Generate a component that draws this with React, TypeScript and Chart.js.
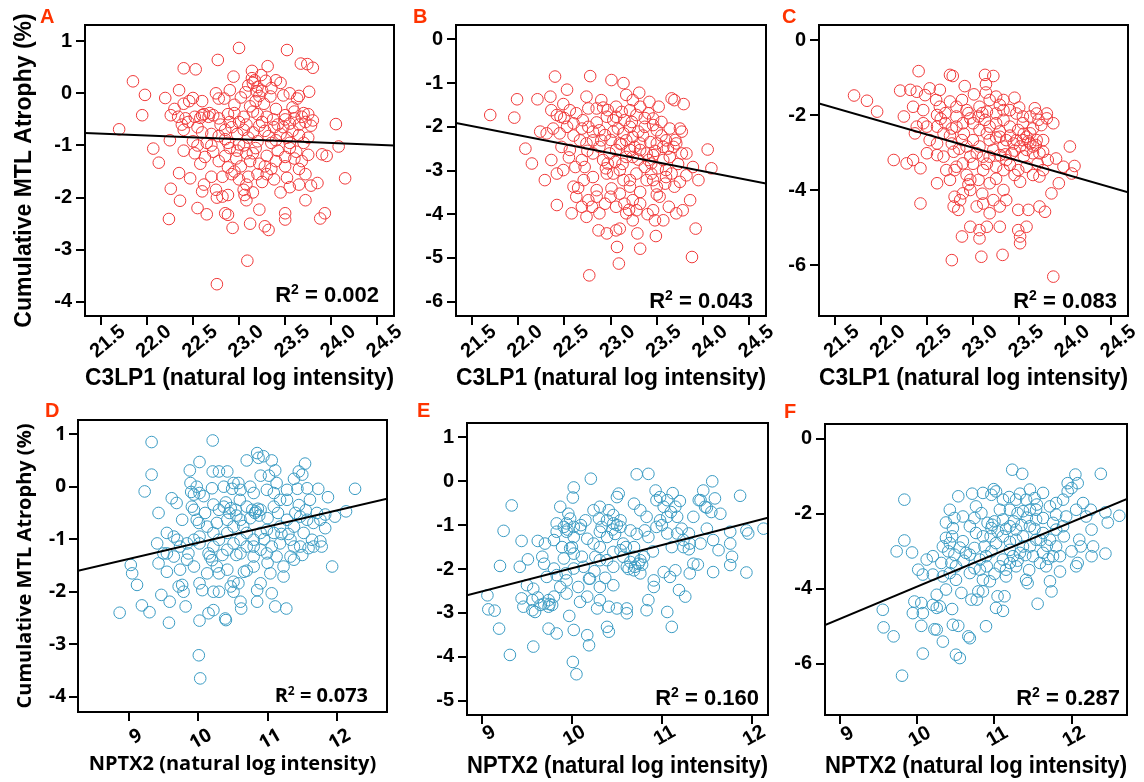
import React, { useEffect, useRef } from 'react';
import { Chart, registerables } from 'chart.js';

Chart.register(...registerables);

// ---------- tick values / labels ----------
const c3Ticks = [21.5, 22.0, 22.5, 23.0, 23.5, 24.0, 24.5];
const c3TickLabels = ['21.5', '22.0', '22.5', '23.0', '23.5', '24.0', '24.5'];
const nptxTicks = [9, 10, 11, 12];
const nptxTickLabels = ['9', '10', '11', '12'];
const yTicksA = [-4, -3, -2, -1, 0, 1];
const yTicksB = [-6, -5, -4, -3, -2, -1, 0];
const yTicksC = [-6, -4, -2, 0];
const yTicksD = [-4, -3, -2, -1, 0, 1];
const yTicksE = [-5, -4, -3, -2, -1, 0, 1];
const yTicksF = [-6, -4, -2, 0];

const letters = ['A', 'B', 'C', 'D', 'E', 'F'];
const r2Values = ['0.002', '0.043', '0.083', '0.073', '0.160', '0.287'];
const xTitleC3 = 'C3LP1 (natural log intensity)';
const xTitleNptx = 'NPTX2 (natural log intensity)';
const yTitle = 'Cumulative MTL Atrophy (%)';

// ---------- regression line end points ----------
const fitA = [[21.33, -0.76], [24.68, -1.0]];
const fitB = [[21.33, -1.91], [24.68, -3.3]];
const fitC = [[21.33, -1.69], [24.68, -4.06]];
const fitD = [[8.27, -1.6], [12.72, -0.23]];
const fitE = [[8.833, -2.6], [12.18, -0.83]];
const fitF = [[8.8, -4.97], [12.72, -1.6]];

// ---------- scatter points [x, y] ----------
const ptsA = [
  [23.0,0.87],[23.52,0.83],[22.77,0.64],[23.67,0.57],[23.74,0.56],[23.8,0.49],[22.4,0.48],[22.53,0.46],[23.31,0.52],[23.14,0.43],[23.24,0.35],
  [21.85,0.23],[22.94,0.32],[23.14,0.29],[23.17,0.25],[23.29,0.24],[23.4,0.25],[23.45,0.2],[23.2,0.12],[23.19,0.04],[23.76,0.03],[21.98,-0.03],[22.35,0.06],[22.75,0.0],[22.9,0.06],[23.07,0.02],[23.55,0.0],[23.65,-0.05],[23.35,0.1],[23.1,0.15],
  [22.2,-0.09],[22.5,-0.09],[22.46,-0.15],[22.4,-0.2],[22.78,-0.1],[22.84,-0.1],[23.02,-0.08],[23.22,-0.05],[23.34,-0.06],[23.48,-0.04],[23.63,-0.1],[23.27,-0.2],[23.4,-0.3],[23.58,-0.27],[23.12,-0.25],[22.95,-0.22],[21.95,-0.42],[22.26,-0.42],[22.34,-0.45],[22.42,-0.48],[22.52,-0.45],[22.6,-0.42],[22.67,-0.45],[22.72,-0.42],[22.78,-0.48],[22.88,-0.4],[22.95,-0.38],[23.05,-0.45],[23.15,-0.35],[23.2,-0.4],[23.3,-0.45],[23.37,-0.5],[23.5,-0.42],[23.6,-0.48],[23.68,-0.45],[23.75,-0.4],[23.72,-0.55],[23.8,-0.52],[23.55,-0.58],
  [21.7,-0.69],[22.38,-0.6],[22.4,-0.7],[22.55,-0.65],[22.6,-0.75],[22.7,-0.78],[22.78,-0.82],[22.85,-0.7],[22.92,-0.65],[22.98,-0.78],[23.05,-0.7],[23.1,-0.85],[23.15,-0.75],[23.22,-0.62],[23.28,-0.72],[23.32,-0.82],[23.38,-0.65],[23.45,-0.78],[23.52,-0.85],[23.58,-0.72],[23.65,-0.8],[23.75,-0.85],[23.7,-0.95],[24.05,-0.59],[22.25,-0.9],[22.5,-0.92],[22.65,-0.95],[22.88,-0.95],[23.0,-0.98],[23.2,-0.92],[23.4,-0.9],[23.55,-0.95],[22.85,-0.88],[23.48,-0.65],
  [22.07,-1.06],[22.13,-1.33],[22.4,-1.1],[22.52,-1.15],[22.58,-1.35],[22.63,-1.22],[22.72,-1.12],[22.78,-1.3],[22.85,-1.2],[22.9,-1.05],[22.97,-1.25],[23.02,-1.4],[23.08,-1.15],[23.12,-1.3],[23.18,-1.05],[23.22,-1.35],[23.3,-1.2],[23.35,-1.45],[23.42,-1.1],[23.5,-1.22],[23.55,-1.05],[23.62,-1.12],[23.68,-1.3],[23.75,-1.18],[23.9,-1.17],[23.95,-1.2],[24.08,-1.02],[22.98,-1.1],[22.88,-1.42],[23.28,-1.4],[23.65,-1.45],
  [22.35,-1.53],[22.47,-1.63],[22.6,-1.88],[22.62,-1.75],[22.75,-1.85],[22.82,-1.6],[22.88,-1.95],[22.92,-1.55],[23.0,-1.65],[23.05,-1.85],[23.1,-1.6],[23.15,-1.9],[23.2,-1.55],[23.25,-1.7],[23.3,-1.55],[23.38,-1.65],[23.45,-1.9],[23.52,-1.62],[23.55,-1.8],[23.65,-1.75],[23.72,-1.55],[23.78,-1.77],[23.85,-1.72],[24.15,-1.63],[22.82,-1.98],[23.08,-1.75],
  [22.26,-1.83],[22.36,-2.06],[22.55,-2.2],[22.65,-2.32],[22.76,-2.0],[22.85,-2.3],[22.88,-2.33],[22.93,-2.58],[23.08,-2.05],[23.12,-2.5],[23.22,-2.23],[23.28,-2.55],[23.32,-2.62],[23.5,-2.3],[23.5,-2.42],[23.72,-2.05],[23.88,-2.4],[23.93,-2.3],[23.06,-1.95],[22.24,-2.41],
  [23.09,-3.21],[22.76,-3.66],
  [22.62,-0.4],[22.68,-0.38],[22.58,-0.47],[23.15,0.2],[23.18,-0.15],[23.25,0.05],[23.6,-0.35],[23.65,-0.6],[23.7,-0.38],[23.78,-0.62],[22.8,-0.6],[22.9,-0.55],[23.0,-0.55],[23.08,-0.6],[23.25,-0.55],[23.42,-0.6],[23.5,-0.5],[22.7,-1.0],[22.95,-1.5],[23.15,-1.15],[23.4,-1.3],[23.6,-1.25],[22.45,-0.55],[22.3,-0.3],[22.6,-0.15],[23.5,-1.4],[22.7,-1.6],[23.35,-0.95],[23.05,-1.0],[22.55,-1.0],
];

const ptsB = [
  [22.4,-0.85],[22.78,-0.84],[23.01,-0.93],[23.14,-1.0],[22.53,-1.15],[23.31,-1.22],[21.99,-1.37],[22.21,-1.37],[22.35,-1.31],[22.49,-1.48],[22.74,-1.31],[22.9,-1.39],[23.17,-1.27],[23.24,-1.39],[23.42,-1.43],[23.52,-1.54],[23.66,-1.35],[23.69,-1.39],[23.79,-1.48],[21.7,-1.73],[21.96,-1.79],
  [22.36,-1.62],[22.42,-1.73],[22.46,-1.77],[22.56,-1.62],[22.63,-1.69],[22.76,-1.58],[22.85,-1.58],[22.92,-1.56],[22.97,-1.62],[23.06,-1.54],[23.12,-1.66],[23.21,-1.62],[23.28,-1.73],[23.32,-1.54],[23.41,-1.69],[23.46,-1.81],
  [22.24,-2.11],[22.31,-2.15],[22.38,-2.04],[22.45,-2.15],[22.53,-2.0],[22.6,-1.92],[22.69,-2.04],[22.76,-2.0],[22.81,-2.11],[22.88,-2.08],[22.94,-2.19],[23.03,-2.11],[23.08,-2.04],[23.14,-2.15],[23.21,-2.0],[23.24,-2.23],[23.3,-2.11],[23.37,-2.0],[23.46,-1.96],[23.5,-2.08],[23.55,-1.89],[23.64,-2.04],[23.75,-2.04],[23.77,-2.11],
  [22.08,-2.5],[22.15,-2.84],[22.29,-3.22],[22.36,-2.76],[22.42,-3.07],[22.47,-2.46],[22.49,-2.99],[22.56,-2.53],[22.62,-2.92],[22.69,-2.76],[22.74,-2.38],[22.81,-2.61],[22.88,-2.46],[22.92,-2.76],[22.97,-2.84],[23.05,-2.8],[23.1,-2.38],[23.17,-2.31],[23.21,-2.53],[23.24,-2.69],[23.32,-2.38],[23.39,-2.61],[23.44,-2.84],[23.5,-2.38],[23.51,-2.95],[23.57,-2.46],[23.6,-2.31],[23.64,-2.69],[23.68,-2.46],[23.71,-2.38],[23.77,-2.61],[23.82,-2.61],[23.89,-2.92],[24.05,-2.52],[24.09,-2.95],[23.95,-3.22],
  [22.6,-3.37],[22.63,-3.6],[22.71,-3.22],[22.76,-3.68],[22.8,-3.83],[22.85,-3.45],[22.88,-3.98],[22.94,-3.76],[23.01,-3.41],[23.06,-3.83],[23.1,-3.53],[23.15,-3.76],[23.21,-3.22],[23.24,-3.68],[23.28,-3.91],[23.32,-3.49],[23.39,-3.22],[23.44,-3.07],[23.5,-3.37],[23.53,-3.6],[23.59,-3.3],[23.66,-3.07],[23.69,-3.37],[23.75,-3.26],[23.82,-3.11],[23.86,-3.68],[23.78,-3.91],[23.71,-3.98],
  [22.42,-3.79],[22.58,-3.98],[22.87,-4.37],[22.96,-4.44],[23.06,-4.37],[23.1,-4.33],[23.17,-3.98],[23.29,-4.44],[23.48,-4.14],[23.49,-4.5],[23.57,-4.14],[23.92,-4.33],[23.07,-4.75],[23.32,-4.79],[23.09,-5.13],[23.88,-4.98],[22.77,-5.4],
  [23.03,-1.85],[22.96,-1.77],[23.06,-1.77],[23.15,-1.85],[23.23,-1.89],[23.26,-2.46],[23.32,-2.53],[23.41,-2.76],[23.46,-2.65],[23.57,-2.76],[23.6,-2.99],[22.67,-2.31],[22.81,-2.31],[22.9,-2.31],[22.72,-2.92],[22.81,-3.15],[22.96,-3.07],[23.03,-3.07],[23.1,-2.99],[23.14,-3.22],[23.21,-3.37],[23.28,-3.07],[23.37,-2.92],[23.46,-3.22],[22.99,-2.61],[23.06,-2.53],[23.17,-2.69],[22.74,-4.06],[22.69,-3.83],[23.24,-4.14],[23.46,-3.91],[23.63,-3.83],[23.32,-3.76],
  [22.7,-1.85],[22.85,-1.9],[23.0,-2.3],[23.12,-2.4],[23.35,-2.2],[23.43,-2.35],[23.55,-2.2],[23.62,-2.5],[23.7,-2.3],[23.48,-2.55],[22.6,-2.2],[22.55,-2.7],[22.75,-2.55],[22.95,-2.95],[23.13,-2.85],[23.3,-2.75],[23.6,-3.15],[23.73,-2.85],[22.5,-1.8],[23.37,-1.8],[23.5,-3.55],[23.0,-3.6],[22.85,-3.6],[23.2,-3.9],[22.65,-3.4],[23.4,-4.0],
];

const ptsC = [
  [22.41,-0.83],[22.75,-0.93],[22.78,-0.96],[23.13,-0.93],[23.22,-0.96],[21.71,-1.48],[21.85,-1.62],[21.96,-1.91],[22.21,-1.35],[22.32,-1.33],[22.39,-1.38],[22.48,-1.47],[22.53,-1.29],[22.64,-1.33],[22.91,-1.23],[23.01,-1.45],[23.14,-1.18],[23.14,-1.4],[23.25,-1.51],[23.33,-1.6],[23.45,-1.54],[22.35,-1.78],[22.25,-2.04],[22.46,-1.87],[22.61,-2.0],[22.64,-1.78],[22.75,-1.64],[22.82,-1.78],[22.88,-1.6],[22.93,-1.87],[23.07,-1.78],[23.18,-1.6],[23.29,-1.73],[23.4,-1.87],[23.47,-1.96],[23.54,-2.04],[23.67,-1.82],[23.69,-1.96],[23.8,-1.96],
  [22.39,-2.31],[22.37,-2.49],[22.46,-2.22],[22.5,-2.31],[22.61,-2.31],[22.7,-2.22],[22.77,-2.36],[22.82,-2.31],[22.89,-2.22],[22.97,-2.09],[23.06,-2.04],[23.13,-2.13],[23.18,-2.31],[23.25,-2.22],[23.33,-2.13],[23.4,-2.31],[23.49,-2.4],[23.54,-2.22],[23.62,-2.49],[23.65,-2.36],[23.74,-2.27],[23.76,-2.67],
  [22.14,-3.2],[22.28,-3.29],[22.35,-3.2],[22.43,-3.42],[22.61,-3.07],[22.68,-3.11],[22.77,-2.76],[22.79,-2.98],[22.88,-2.67],[22.93,-2.84],[22.97,-3.11],[23.0,-2.67],[23.07,-2.84],[23.11,-3.11],[23.18,-2.67],[23.22,-2.93],[23.29,-2.58],[23.33,-2.84],[23.36,-3.2],[23.42,-3.02],[23.47,-2.67],[23.51,-2.84],[23.54,-2.67],[23.58,-2.58],[23.62,-2.76],[23.65,-2.84],[23.69,-2.67],[23.72,-3.02],[23.76,-2.98],[23.81,-3.2],[23.9,-3.16],[23.98,-3.38],[24.05,-2.84],[24.1,-3.36],[24.07,-3.56],
  [22.61,-3.82],[22.75,-3.73],[22.8,-3.47],[22.93,-3.6],[22.97,-3.73],[23.06,-3.73],[23.11,-3.47],[23.18,-3.82],[23.25,-3.38],[23.33,-3.47],[23.4,-3.33],[23.49,-3.47],[23.51,-3.78],[23.58,-3.38],[23.65,-3.6],[23.72,-3.64],[23.76,-3.47],[23.85,-4.09],[23.93,-3.82],[23.78,-4.58],[23.72,-4.44],[23.6,-4.53],[23.49,-4.53],[23.33,-4.0],[23.36,-4.27],[23.29,-4.44],[23.22,-4.27],[23.11,-4.36],[23.18,-4.62],[23.04,-4.44],[22.97,-4.0],[22.89,-4.09],[22.86,-4.27],[22.8,-4.18],[22.79,-4.44],[22.84,-4.53],[22.43,-4.36],
  [22.97,-4.98],[23.07,-5.07],[23.15,-4.98],[23.29,-4.98],[23.07,-5.29],[22.88,-5.24],[23.49,-5.07],[23.51,-5.24],[23.51,-5.42],[23.58,-4.98],[22.77,-5.87],[23.09,-5.78],[23.32,-5.73],[23.87,-6.31],
  [23.33,-1.87],[23.25,-1.96],[23.15,-1.91],[22.82,-2.04],[23.0,-2.22],[23.07,-2.4],[23.15,-2.49],[23.29,-2.44],[23.36,-2.67],[23.44,-2.76],[23.58,-2.93],[23.65,-3.02],[23.04,-3.02],[23.18,-3.11],[23.29,-3.07],[22.89,-3.29],[22.71,-3.47],[22.82,-3.38],[22.5,-3.02],[22.61,-2.76],[22.53,-2.67],[22.68,-2.49],[23.62,-2.04],[23.71,-2.13],[23.8,-2.09],[23.87,-2.22],
  [22.6,-1.6],[22.7,-1.95],[22.95,-1.95],[23.1,-1.95],[23.25,-2.6],[23.4,-2.55],[23.45,-2.95],[23.55,-3.1],[23.6,-2.7],[23.68,-2.8],[23.7,-3.3],[22.75,-2.55],[22.9,-2.5],[23.0,-3.3],[23.15,-3.3],[23.35,-3.05],[23.45,-3.6],[22.95,-3.85],[23.25,-3.7],[22.65,-2.1],[23.5,-1.8],[23.55,-2.5],[22.85,-2.9],[23.1,-4.1],
];

const ptsD = [
  [9.33,0.85],[10.21,0.88],[9.33,0.23],[9.23,-0.09],[9.43,-0.5],[10.02,0.47],[9.88,0.31],[9.89,0.07],[9.98,0.0],[10.02,-0.12],[9.94,-0.15],[10.08,-0.18],[10.21,0.29],[10.3,0.29],[10.42,0.29],[10.51,0.07],[10.58,0.07],[10.49,-0.04],[10.7,0.5],[10.85,0.64],[10.87,0.55],[10.94,0.58],[11.06,0.5],[11.11,0.31],[11.02,0.21],[10.9,0.21],[11.13,0.07],[11.54,0.44],[11.45,0.29],[11.5,0.23],[11.38,0.15],[11.43,-0.04],[11.57,-0.03],[11.73,-0.04],[11.87,-0.2],[12.26,-0.04],
  [12.13,-0.47],[11.97,-0.57],[11.83,-0.53],[11.71,-0.5],[11.61,-0.25],[11.28,-0.25],[11.18,-0.25],[11.09,-0.38],[10.9,-0.44],[10.83,-0.47],[10.78,-0.44],[10.7,-0.38],[10.54,-0.44],[10.47,-0.41],[10.37,-0.38],[10.3,-0.44],[10.22,-0.34],[9.62,-0.22],[9.69,-0.31],[9.77,-0.63],[9.91,-0.38],[9.94,-0.44],[9.98,-0.63],[10.01,-0.69],[10.13,-0.76],[10.27,-0.69],[10.42,-0.63],[10.51,-0.76],[10.61,-0.63],
  [10.7,-0.88],[10.8,-1.01],[10.9,-0.88],[10.99,-0.82],[11.09,-0.88],[11.18,-0.76],[11.28,-0.63],[11.38,-0.76],[11.47,-0.57],[11.57,-0.63],[11.66,-0.69],[11.76,-0.63],[11.83,-0.79],[11.52,-0.88],[11.64,-1.01],[11.76,-1.04],[11.78,-1.14],[11.93,-1.52],[11.59,-1.17],[11.47,-1.14],[11.33,-1.33],[11.38,-1.39],[11.23,-1.52],[11.23,-1.71],[11.13,-1.33],[11.06,-1.14],[10.99,-1.27],[10.9,-1.2],[10.8,-1.33],[10.7,-1.14],[10.61,-1.01],[10.51,-1.08],[10.42,-1.2],[10.3,-1.01],[10.22,-1.14],[10.15,-1.27],[10.02,-0.95],[9.94,-1.01],[9.84,-1.08],[9.74,-1.14],[9.65,-0.95],[9.55,-0.88],[9.41,-1.08],[9.5,-1.27],
  [9.43,-1.46],[9.55,-1.62],[9.65,-1.33],[9.74,-1.58],[9.84,-1.39],[9.94,-1.52],[10.02,-1.84],[10.17,-1.33],[10.27,-1.52],[10.3,-1.65],[10.42,-1.58],[10.47,-1.9],[10.51,-1.81],[10.58,-1.84],[10.66,-1.62],[10.8,-1.52],[10.9,-1.84],[10.85,-1.97],[11.04,-1.65],[11.06,-2.03],[10.85,-2.19],[11.11,-2.28],[11.27,-2.32],[10.61,-2.19],[10.62,-2.32],[10.22,-2.35],[10.15,-2.41],[10.39,-2.51],[10.4,-2.54],[10.02,-2.55],[9.82,-2.28],[9.58,-2.59],[9.59,-2.19],[9.47,-2.06],[9.3,-2.39],[9.19,-2.26],[8.87,-2.4],[9.12,-1.87],[9.05,-1.65],[9.03,-1.49],[9.77,-1.87],[9.72,-1.9],[9.79,-2.0],[10.06,-1.97],[10.22,-2.0],[10.3,-2.0],[10.51,-2.0],[10.01,-3.21],[10.03,-3.65],
  [10.75,0.0],[10.8,-0.12],[10.99,-0.06],[11.09,-0.12],[11.28,-0.06],[10.37,0.0],[10.61,-0.06],[10.2,-0.03],[10.02,-1.08],[10.13,-1.65],[10.22,-0.88],[10.42,-0.88],[10.61,-1.27],[10.8,-1.14],[11.18,-1.08],[11.33,-1.01],[11.38,-1.14],[11.66,-1.14],[9.86,-1.27],[9.7,-1.01],[9.55,-1.27],
  [10.4,-0.3],[10.45,-0.5],[10.55,-0.55],[10.82,-0.5],[10.86,-0.42],[10.88,-0.55],[10.75,-0.6],[11.0,-0.6],[11.15,-0.5],[11.2,-0.9],[11.3,-0.9],[10.65,-0.75],[10.95,-1.0],[11.0,-1.45],[10.7,-1.6],[10.55,-1.3],[10.35,-1.3],[11.45,-0.35],[11.55,-0.45],[11.4,-0.5],[10.2,-1.4],[10.1,-0.5],[10.6,-0.25],[9.9,-0.1],[11.5,-1.3],
];

const ptsE = [
  [10.72,0.16],[10.85,0.17],[10.21,0.06],[10.02,-0.14],[10.01,-0.37],[9.33,-0.55],[9.24,-1.13],[9.2,-1.93],[9.44,-1.36],[9.42,-1.95],[9.51,-1.78],[9.62,-1.36],[9.7,-1.42],[9.8,-1.34],[9.87,-0.58],[9.96,-0.74],[9.98,-0.85],[9.91,-1.04],[9.94,-1.15],[9.83,-1.15],[10.02,-1.04],[10.09,-1.08],[9.89,-1.5],[9.98,-1.53],[10.15,-0.89],[10.24,-0.66],[10.31,-0.58],[10.41,-0.66],[10.46,-0.77],[10.5,-0.36],[10.52,-0.28],[10.46,-0.96],[10.54,-1.04],[10.33,-1.04],[10.39,-1.27],[10.24,-1.42],[10.17,-1.31],
  [10.02,-1.65],[9.91,-1.76],[9.69,-1.88],[9.67,-1.72],[9.8,-1.99],[9.83,-2.14],[9.93,-2.1],[10.02,-1.99],[10.11,-1.72],[10.2,-2.22],[10.26,-1.72],[10.31,-1.8],[10.39,-1.8],[10.46,-1.95],[10.57,-1.72],[10.65,-1.84],[10.69,-1.72],[10.74,-1.88],[10.8,-1.72],[10.69,-2.03],[10.76,-2.1],[10.61,-1.95],[10.65,-1.12],[10.69,-0.51],[10.76,-0.66],[10.83,-0.81],[10.81,-1.12],[10.85,-1.27],[10.93,-0.21],[10.94,-0.43],[10.98,-0.36],[11.02,-0.58],[11.06,-0.43],[11.12,-0.27],[11.15,-0.58],[10.98,-0.89],[11.06,-1.19],[11.11,-1.5],[11.17,-1.19],[11.22,-1.08],[11.24,-1.34],[11.31,-1.42],[11.3,-1.19],[11.35,-0.81],[11.41,-0.43],[11.46,-0.21],[11.48,-0.58],[11.56,0.0],[11.59,-0.39],[11.65,-0.74],[11.57,-1.34],[11.63,-1.57],[11.57,-2.07],
  [11.76,-1.15],[11.76,-1.42],[11.78,-1.72],[11.76,-1.91],[11.87,-0.33],[11.94,-1.12],[11.96,-1.19],[11.94,-2.08],[12.13,-1.08],[11.35,-1.88],[11.31,-2.1],[11.15,-2.03],[11.09,-2.18],[11.02,-2.07],[11.19,-2.48],[11.26,-2.63],[10.91,-2.26],[10.91,-2.41],[10.85,-2.71],[10.83,-2.94],[11.06,-2.98],[11.11,-3.32],[10.61,-2.9],[10.61,-3.01],[10.5,-2.9],[10.41,-2.86],[10.46,-2.37],[10.31,-2.41],[10.31,-2.71],[10.28,-2.9],[10.17,-2.63],[10.09,-2.75],[10.07,-2.41],[10.19,-2.22],[9.94,-2.56],[9.87,-2.41],[9.8,-2.63],[9.74,-2.71],[9.69,-2.79],[9.65,-2.82],[9.74,-2.86],[9.78,-2.82],[9.57,-2.45],[9.56,-2.71],[9.44,-2.67],[9.46,-2.86],[9.56,-2.94],[9.59,-2.98],
  [9.74,-3.36],[9.83,-3.47],[9.97,-3.07],[10.02,-3.39],[10.17,-3.51],[10.19,-3.74],[10.39,-3.32],[10.41,-3.43],[9.57,-3.77],[9.31,-3.96],[10.01,-4.12],[10.05,-4.4],[9.06,-2.6],[9.07,-2.92],[9.14,-2.95],[9.19,-3.36],
  [10.39,-0.89],[10.54,-0.89],[10.31,-1.15],[10.54,-1.57],[10.69,-1.5],[10.76,-1.8],[10.94,-1.04],[11.06,-0.81],[11.17,-0.81],[11.24,-1.5],[11.43,-1.42],[11.5,-1.08],[11.43,-0.43],[10.02,-1.27],[9.83,-0.96],[9.94,-0.96],[9.72,-2.18],[9.94,-2.26],[10.13,-1.95],[9.5,-2.37],[10.46,-1.61],[10.57,-1.42],[10.31,-1.5],
  [10.45,-1.1],[10.5,-1.0],[10.48,-1.2],[10.6,-1.5],[10.72,-1.2],[10.78,-1.9],[10.7,-1.95],[10.63,-2.0],[11.0,-1.0],[11.1,-0.7],[11.2,-0.45],[11.5,-0.6],[11.55,-0.7],[11.3,-1.55],[10.1,-1.0],[9.95,-1.1],[10.0,-1.5],[10.25,-2.05],[10.37,-2.2],[10.9,-1.6],[11.4,-1.9],[9.75,-2.8],[9.62,-2.65],[10.3,-0.85],
];

const ptsF = [
  [11.23,-0.82],[11.36,-0.93],[12.38,-0.93],[12.05,-0.95],[11.95,-1.18],[12.0,-1.31],[12.08,-1.18],[10.99,-1.34],[11.02,-1.4],[10.96,-1.49],[10.53,-1.53],[10.71,-1.46],[11.19,-1.55],[11.33,-1.46],[11.41,-1.62],[11.52,-1.58],[11.63,-1.44],[11.8,-1.71],[11.89,-1.62],[12.15,-1.71],[12.25,-1.89],[12.44,-1.96],[12.62,-2.05],[12.47,-2.23],
  [9.83,-1.62],[9.83,-2.71],[9.73,-3.0],[9.93,-3.03],[10.37,-2.23],[10.42,-1.89],[10.48,-2.11],[10.46,-2.38],[10.37,-2.64],[10.42,-2.78],[10.33,-2.87],[10.59,-2.73],[10.48,-3.09],[10.44,-3.31],[10.31,-3.31],[10.2,-3.13],[10.12,-3.22],[10.01,-3.49],[10.07,-3.62],[10.2,-3.62],[10.33,-3.67],[10.37,-4.02],[10.25,-4.16],[10.2,-4.43],[10.25,-4.51],[10.29,-4.47],[10.45,-4.54],[9.96,-4.34],[10.05,-4.38],[9.94,-4.65],[10.07,-4.65],[10.05,-4.99],[10.22,-5.08],[10.25,-5.09],[10.33,-5.41],[10.46,-4.96],[10.53,-4.99],[10.66,-5.27],[10.68,-5.32],[10.89,-5.0],[10.07,-5.73],[10.5,-5.76],[10.55,-5.85],[9.8,-6.32],[9.55,-4.56],[9.56,-5.03],[9.69,-5.27],
  [10.5,-3.76],[10.57,-4.11],[10.68,-3.58],[10.74,-3.45],[10.68,-3.09],[10.74,-2.91],[10.76,-2.51],[10.74,-2.11],[10.83,-1.98],[10.76,-1.8],[10.91,-2.24],[10.96,-2.38],[10.97,-2.29],[11.04,-2.47],[10.85,-2.6],[10.87,-2.87],[10.96,-3.0],[10.89,-3.13],[10.81,-3.22],[10.81,-3.49],[10.85,-3.76],[10.94,-3.8],[10.85,-4.07],[10.79,-4.07],[10.77,-4.29],[10.7,-4.29],[11.04,-4.2],[11.13,-4.2],[11.02,-4.51],[11.11,-4.59],
  [11.07,-3.4],[11.11,-3.22],[11.2,-3.31],[11.15,-3.49],[11.24,-3.13],[11.33,-3.04],[11.37,-2.87],[11.28,-2.69],[11.2,-2.33],[11.11,-2.15],[11.07,-1.89],[11.2,-1.89],[11.3,-1.98],[11.37,-1.93],[11.46,-1.89],[11.54,-1.89],[11.63,-2.11],[11.54,-2.15],[11.46,-2.33],[11.54,-2.69],[11.46,-2.87],[11.5,-3.13],[11.59,-3.31],[11.67,-3.4],[11.76,-3.13],[11.85,-3.13],[11.63,-3.04],[11.72,-2.69],[11.8,-2.87],[11.8,-2.42],[11.76,-2.24],[11.89,-2.33],[11.93,-2.07],[12.06,-1.89],[12.1,-2.69],[12.12,-2.87],[12.08,-3.31],[12.06,-3.4],[12.26,-3.13],[12.28,-2.87],[12.26,-2.42],[12.44,-3.06],[11.72,-3.8],[11.74,-4.07],[11.85,-3.54],[11.41,-3.76],[11.43,-3.85],[11.56,-4.4],[11.15,-3.67],[11.28,-3.4],
  [11.11,-2.6],[11.28,-2.42],[11.37,-2.6],[11.63,-2.51],[11.02,-2.78],[11.2,-2.96],[10.59,-2.07],[10.68,-2.33],[10.63,-3.04],[10.5,-3.4],[10.42,-3.58],[11.11,-1.62],[11.28,-1.62],[11.72,-1.8],[11.8,-2.02],[12.19,-2.07],[10.85,-1.44],[11.46,-1.35],
  [11.0,-2.2],[11.15,-2.4],[11.25,-2.2],[11.35,-2.3],[11.42,-2.1],[11.52,-2.4],[11.6,-2.7],[11.68,-2.85],[11.7,-3.2],[11.4,-3.1],[11.3,-3.25],[11.2,-2.75],[10.95,-2.6],[10.9,-3.4],[11.0,-3.6],[10.6,-3.25],[10.55,-2.9],[10.45,-2.6],[11.55,-1.75],[11.95,-1.4],[11.9,-2.6],[12.0,-3.0],[10.4,-3.0],[11.45,-3.5],
];

// ---------- panel layout / style ----------
const ARIAL = "'Liberation Sans', Arial, sans-serif";
const CALIBRI = "'Open Sans', 'Noto Sans', sans-serif";
const RED = '#f03a3a';
const BLUE = '#3a9bc3';

type Panel = {
  left: number; top: number; w: number; h: number;
  box: number[]; // L, T, R, B (page coords)
  xMin: number; xMax: number; yMin: number; yMax: number;
  xTicks: number[]; xLabels: string[]; yTicks: number[];
  pts: number[][]; fit: number[][]; color: string;
  xTitle: string; showYTitle: boolean; family: string;
  tickSize: number; titleSize: number; r2Size: number;
  rotation: number; labelOffset: number; xPad: number; yPad: number;
  xTitlePad: number; yTitlePad: number;
  letter: string; letterPos: number[]; r2: string; r2Pos: number[];
};

const panels: Panel[] = [
  { left: 0, top: 0, w: 405, h: 400, box: [85, 25, 394, 316], xMin: 21.33, xMax: 24.68, yMin: -4.27, yMax: 1.31,
    xTicks: c3Ticks, xLabels: c3TickLabels, yTicks: yTicksA, pts: ptsA, fit: fitA, color: RED,
    xTitle: xTitleC3, showYTitle: true, family: ARIAL, tickSize: 20, titleSize: 23, r2Size: 22,
    rotation: 40, labelOffset: 22, xPad: -5, yPad: 4, xTitlePad: 8, yTitlePad: 11,
    letter: letters[0], letterPos: [40, 23], r2: r2Values[0], r2Pos: [379, 302] },
  { left: 405, top: 0, w: 375, h: 400, box: [456, 25, 766, 316], xMin: 21.33, xMax: 24.68, yMin: -6.33, yMax: 0.33,
    xTicks: c3Ticks, xLabels: c3TickLabels, yTicks: yTicksB, pts: ptsB, fit: fitB, color: RED,
    xTitle: xTitleC3, showYTitle: false, family: ARIAL, tickSize: 20, titleSize: 23, r2Size: 22,
    rotation: 40, labelOffset: 22, xPad: -5, yPad: 4, xTitlePad: 8, yTitlePad: 11,
    letter: letters[1], letterPos: [413, 23], r2: r2Values[1], r2Pos: [753, 308] },
  { left: 780, top: 0, w: 364, h: 400, box: [819, 25, 1128, 316], xMin: 21.33, xMax: 24.68, yMin: -7.36, yMax: 0.4,
    xTicks: c3Ticks, xLabels: c3TickLabels, yTicks: yTicksC, pts: ptsC, fit: fitC, color: RED,
    xTitle: xTitleC3, showYTitle: false, family: ARIAL, tickSize: 20, titleSize: 23, r2Size: 22,
    rotation: 40, labelOffset: 22, xPad: -5, yPad: 4, xTitlePad: 8, yTitlePad: 11,
    letter: letters[2], letterPos: [782, 23], r2: r2Values[2], r2Pos: [1117, 308] },
  { left: 0, top: 400, w: 405, h: 382, box: [78, 420, 387, 712], xMin: 8.27, xMax: 12.72, yMin: -4.29, yMax: 1.27,
    xTicks: nptxTicks, xLabels: nptxTickLabels, yTicks: yTicksD, pts: ptsD, fit: fitD, color: BLUE,
    xTitle: xTitleNptx, showYTitle: true, family: CALIBRI, tickSize: 19, titleSize: 20, r2Size: 20,
    rotation: 30, labelOffset: 12, xPad: 3, yPad: 3, xTitlePad: 6, yTitlePad: 13,
    letter: letters[3], letterPos: [45, 417], r2: r2Values[3], r2Pos: [368, 702] },
  { left: 405, top: 400, w: 375, h: 382, box: [467, 423, 768, 715], xMin: 8.833, xMax: 12.18, yMin: -5.33, yMax: 1.33,
    xTicks: nptxTicks, xLabels: nptxTickLabels, yTicks: yTicksE, pts: ptsE, fit: fitE, color: BLUE,
    xTitle: xTitleNptx, showYTitle: false, family: ARIAL, tickSize: 20, titleSize: 23, r2Size: 22,
    rotation: 30, labelOffset: 12, xPad: -4, yPad: 4, xTitlePad: 2, yTitlePad: 11,
    letter: letters[4], letterPos: [417, 417], r2: r2Values[4], r2Pos: [759, 705] },
  { left: 780, top: 400, w: 364, h: 382, box: [825, 424, 1127, 715], xMin: 8.8, xMax: 12.72, yMin: -7.37, yMax: 0.4,
    xTicks: nptxTicks, xLabels: nptxTickLabels, yTicks: yTicksF, pts: ptsF, fit: fitF, color: BLUE,
    xTitle: xTitleNptx, showYTitle: false, family: ARIAL, tickSize: 20, titleSize: 23, r2Size: 22,
    rotation: 30, labelOffset: 12, xPad: -3, yPad: 4, xTitlePad: 2, yTitlePad: 11,
    letter: letters[5], letterPos: [784, 418], r2: r2Values[5], r2Pos: [1120, 705] },
];

// Draws the frame, panel letter and the R² annotation
const decorPlugin = {
  id: 'panelDecor',
  afterDraw(chart: any, _args: any, opts: any) {
    const { ctx, chartArea: a } = chart;
    ctx.save();
    ctx.strokeStyle = '#000';
    ctx.lineWidth = 2;
    ctx.strokeRect(a.left, a.top, a.right - a.left, a.bottom - a.top);

    ctx.fillStyle = '#ff3300';
    ctx.font = `bold 20px ${ARIAL}`;
    ctx.textAlign = 'left';
    ctx.textBaseline = 'alphabetic';
    ctx.fillText(opts.letter, opts.letterX, opts.letterY);

    const size = opts.r2Size;
    const fam = opts.family;
    ctx.fillStyle = '#000';
    ctx.font = `bold ${size}px ${fam}`;
    const wR = ctx.measureText('R').width;
    const rest = ' = ' + opts.r2;
    const wRest = ctx.measureText(rest).width;
    ctx.font = `bold ${Math.round(size * 0.62)}px ${fam}`;
    const w2 = ctx.measureText('2').width;
    let x = opts.r2X - (wR + w2 + wRest);
    const y = opts.r2Y;
    ctx.font = `bold ${size}px ${fam}`;
    ctx.fillText('R', x, y);
    x += wR;
    ctx.font = `bold ${Math.round(size * 0.62)}px ${fam}`;
    ctx.fillText('2', x, y - size * 0.36);
    x += w2;
    ctx.font = `bold ${size}px ${fam}`;
    ctx.fillText(rest, x, y);
    ctx.restore();
  },
};

function makeConfig(p: Panel): any {
  const bL = p.box[0] - p.left;
  const bT = p.box[1] - p.top;
  const bR = p.box[2] - p.left;
  const bB = p.box[3] - p.top;
  const tickFont = { family: p.family, size: p.tickSize, weight: 'bold' as const };
  const titleFont = { family: p.family, size: p.titleSize, weight: 'bold' as const };
  const grid = { display: true, drawOnChartArea: false, drawTicks: true, tickLength: 9, color: '#000', lineWidth: 2 };
  return {
    type: 'scatter',
    data: {
      datasets: [
        {
          data: p.fit.map(([x, y]) => ({ x, y })),
          showLine: true, borderColor: '#000', borderWidth: 2, pointRadius: 0, fill: false,
        },
        {
          data: p.pts.map(([x, y]) => ({ x, y })),
          showLine: false, borderColor: p.color, backgroundColor: 'rgba(0,0,0,0)',
          pointRadius: 5.8, pointBorderWidth: 1, pointHoverRadius: 5.8,
        },
      ],
    },
    options: {
      responsive: false,
      animation: false,
      events: [],
      layout: { padding: { left: 0, top: bT, right: p.w - bR, bottom: 0 } },
      plugins: {
        legend: { display: false },
        tooltip: { enabled: false },
        panelDecor: {
          letter: p.letter, letterX: p.letterPos[0] - p.left, letterY: p.letterPos[1] - p.top,
          r2: p.r2, r2X: p.r2Pos[0] - p.left, r2Y: p.r2Pos[1] - p.top, r2Size: p.r2Size, family: p.family,
        },
      },
      scales: {
        x: {
          type: 'linear', min: p.xMin, max: p.xMax,
          afterBuildTicks: (s: any) => { s.ticks = p.xTicks.map((v) => ({ value: v })); },
          afterFit: (s: any) => { s.height = p.h - bB; s.paddingLeft = 0; s.paddingRight = 0; },
          grid, border: { display: false },
          ticks: {
            autoSkip: false, minRotation: p.rotation, maxRotation: p.rotation, labelOffset: p.labelOffset,
            padding: p.xPad, color: '#000', font: tickFont,
            callback: (v: number) => { const i = p.xTicks.indexOf(v); return i >= 0 ? p.xLabels[i] : ''; },
          },
          title: { display: true, text: p.xTitle, color: '#000', font: titleFont, padding: { top: 0, bottom: p.xTitlePad } },
        },
        y: {
          type: 'linear', min: p.yMin, max: p.yMax,
          afterBuildTicks: (s: any) => { s.ticks = p.yTicks.map((v) => ({ value: v })); },
          afterFit: (s: any) => { s.width = bL; s.paddingTop = 0; s.paddingBottom = 0; },
          grid, border: { display: false },
          ticks: { padding: p.yPad, color: '#000', font: tickFont, callback: (v: number) => String(v) },
          title: { display: p.showYTitle, text: yTitle, color: '#000', font: titleFont, padding: { top: p.yTitlePad, bottom: 0 } },
        },
      },
    },
    plugins: [decorPlugin],
  };
}

function PanelChart({ p }: { p: Panel }) {
  const ref = useRef<HTMLCanvasElement>(null);
  useEffect(() => {
    if (!ref.current) return;
    const chart = new Chart(ref.current, makeConfig(p));
    return () => chart.destroy();
  }, [p]);
  return (
    <canvas
      ref={ref}
      width={p.w}
      height={p.h}
      style={{ position: 'absolute', left: p.left, top: p.top, width: p.w, height: p.h }}
    />
  );
}

export default function App() {
  return (
    <div style={{ position: 'absolute', left: 0, top: 0, width: 1144, height: 782, background: '#fff', overflow: 'hidden' }}>
      {panels.map((p, i) => (
        <PanelChart key={i} p={p} />
      ))}
    </div>
  );
}
